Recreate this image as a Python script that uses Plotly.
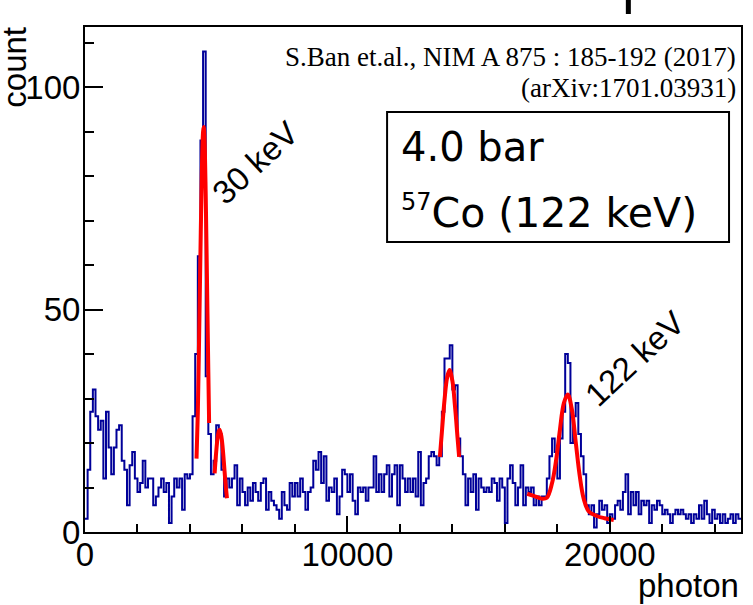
import numpy as np
import plotly.graph_objects as go

# ---------------- data ----------------
bin_width = 100          # photons per bin
n_bins = 250             # 0 .. 25000 photons

counts_0_62 = [3, 14, 27, 32, 26, 23, 25, 12, 27, 19, 13, 19, 23, 24, 16, 14, 6, 15, 18, 12,
               9, 11, 16, 10, 12, 12, 6, 8, 10, 12, 9, 11, 2, 8, 12, 10, 12, 5, 13, 12,
               13, 26, 40, 62, 88, 108, 35, 22, 13, 16, 24, 22, 14, 8, 12, 10, 12, 15, 6, 12,
               9, 6, 10]
counts_63_123 = [7, 11, 9, 7, 11, 12, 5, 9, 7, 6, 5, 3, 9, 6, 5, 11, 8, 11, 8, 12,
                 9, 5, 9, 10, 16, 14, 18, 11, 17, 7, 10, 9, 12, 4, 8, 14, 13, 9, 13, 7,
                 4, 10, 9, 10, 7, 10, 10, 17, 9, 13, 9, 13, 15, 8, 13, 15, 6, 15, 12, 9,
                 12]
counts_124_186 = [9, 12, 8, 18, 6, 11, 12, 17, 18, 17, 15, 17, 27, 39, 39, 42, 32, 33, 21, 17,
                  13, 6, 12, 9, 13, 5, 12, 10, 9, 10, 9, 12, 11, 7, 12, 10, 2, 12, 15, 11,
                  6, 10, 15, 6, 10, 9, 10, 6, 8, 6, 8, 8, 12, 17, 21, 18, 12, 21, 27, 40,
                  38, 20, 26]
counts_187_249 = [29, 22, 17, 13, 6, 4, 6, 1, 4, 7, 5, 6, 2, 4, 3, 6, 7, 5, 9, 13,
                  4, 9, 6, 9, 4, 7, 6, 7, 2, 6, 5, 7, 6, 4, 5, 4, 2, 4, 5, 4,
                  5, 4, 3, 4, 2, 4, 3, 6, 3, 7, 4, 2, 5, 3, 4, 2, 4, 2, 3, 4,
                  2, 4, 3]
counts = counts_0_62 + counts_63_123 + counts_124_186 + counts_187_249
assert len(counts) == n_bins, len(counts)

# fit curves
fit30_x = [4250, 4300, 4350, 4400, 4450, 4500, 4525, 4550, 4600, 4650, 4700, 4730]
fit30_y = [16.5, 27, 44, 63, 80, 90, 91, 89, 76, 56, 36, 24.5]
fit30b_x = [4940, 5000, 5050, 5100, 5130, 5200, 5250, 5300, 5350, 5410]
fit30b_y = [13.2, 18.0, 21.0, 22.7, 23.0, 21.4, 18.7, 15.1, 11.3, 7.6]
fit14k_x = [13524, 13600, 13700, 13800, 13890, 14000, 14100, 14200, 14258]
fit14k_y = [16.9, 22.4, 29.6, 34.7, 36.4, 34.0, 28.3, 21.0, 16.9]
fit122_x = [16850, 17100, 17400, 17600, 17800, 17950, 18100, 18250, 18400, 18550, 18700,
            18850, 19000, 19200, 19500, 19800, 20150]
fit122_y = [8.6, 8.1, 7.5, 7.7, 11.0, 16.0, 23.0, 29.0, 30.9, 27.7, 20.3, 12.8, 7.6, 4.6,
            3.6, 3.1, 2.7]

x_tickvals = [0, 10000, 20000]
x_ticktext = ["0", "10000", "20000"]
y_tickvals = [0, 50, 100]
y_ticktext = ["0", "50", "100"]

# ---------------- figure ----------------
edges = [i * bin_width for i in range(n_bins + 1)]
hist_y = counts + [counts[-1]]

fig = go.Figure()
fig.add_trace(go.Scatter(x=edges, y=hist_y, mode="lines", line_shape="hv",
                         line=dict(color="#000099", width=2), hoverinfo="skip"))
for fx, fy in [(fit30_x, fit30_y), (fit30b_x, fit30b_y), (fit14k_x, fit14k_y), (fit122_x, fit122_y)]:
    fig.add_trace(go.Scatter(x=fx, y=fy, mode="lines", line_shape="spline",
                             line=dict(color="#ff0000", width=4), hoverinfo="skip"))

L, R, T, B = 85, 743, 27, 532
W, H = 753, 605
pw, ph = R - L, B - T


def px(x):
    return (x - L) / pw


def py(y):
    return (B - y) / ph


axis_font = dict(family="Liberation Sans, Arial, sans-serif", size=33, color="black")
fig.update_layout(
    width=W, height=H,
    margin=dict(l=L, r=W - R, t=T, b=H - B),
    paper_bgcolor="white", plot_bgcolor="white",
    showlegend=False,
    xaxis=dict(range=[0, 25000], showgrid=False, zeroline=False,
               showline=True, linecolor="black", linewidth=2, mirror=True,
               ticks="inside", tickvals=x_tickvals, ticktext=x_ticktext,
               ticklen=16, tickwidth=2, tickcolor="black",
               tickfont=axis_font, ticklabelstandoff=-8,
               minor=dict(dtick=2000, ticks="inside", ticklen=8, tickwidth=2, tickcolor="black")),
    yaxis=dict(range=[0, 113.5], showgrid=False, zeroline=False,
               showline=True, linecolor="black", linewidth=2, mirror=True,
               ticks="inside", tickvals=y_tickvals, ticktext=y_ticktext,
               ticklen=18, tickwidth=2, tickcolor="black",
               tickfont=axis_font, ticklabelstandoff=-4,
               minor=dict(dtick=10, ticks="inside", ticklen=9, tickwidth=2, tickcolor="black")),
)

ann = []
ann.append(dict(text="count", xref="paper", yref="paper", x=px(14), y=py(25),
                xanchor="center", yanchor="top", textangle=-90, showarrow=False,
                font=axis_font))
ann.append(dict(text="photon", xref="paper", yref="paper", x=px(743), y=py(585),
                xanchor="right", yanchor="middle", showarrow=False, font=axis_font))
serif = dict(family="Liberation Serif, Times New Roman, serif", size=27, color="black")
ann.append(dict(text="S.Ban et.al., NIM A 875 : 185-192 (2017)", xref="paper", yref="paper",
                x=px(740), y=py(57), xanchor="right", yanchor="middle", showarrow=False, font=serif))
ann.append(dict(text="(arXiv:1701.03931)", xref="paper", yref="paper",
                x=px(740), y=py(88), xanchor="right", yanchor="middle", showarrow=False, font=serif))
box_font = dict(family="DejaVu Sans, sans-serif", size=40, color="black")
box_font2 = dict(family="DejaVu Sans, sans-serif", size=41, color="black")
ann.append(dict(text="4.0 bar", xref="paper", yref="paper", x=px(400), y=py(147),
                xanchor="left", yanchor="middle", showarrow=False, font=box_font))
ann.append(dict(text="<sup><span style=\"font-size:24px\">57</span></sup>Co (122 keV)",
                xref="paper", yref="paper", x=px(400), y=py(212),
                xanchor="left", yanchor="middle", showarrow=False, font=box_font2))
label_font = dict(family="Liberation Sans, Arial, sans-serif", size=33, color="black")
ann.append(dict(text="30 keV", xref="x", yref="y", x=6500, y=83, textangle=-43,
                xanchor="center", yanchor="middle", showarrow=False, font=label_font))
ann.append(dict(text="122 keV", xref="x", yref="y", x=20950, y=39, textangle=-43,
                xanchor="center", yanchor="middle", showarrow=False, font=label_font))
fig.update_layout(annotations=ann)

fig.update_layout(shapes=[
    dict(type="rect", xref="paper", yref="paper", x0=px(388), x1=px(731), y0=py(242), y1=py(112),
         line=dict(color="black", width=2), fillcolor="rgba(0,0,0,0)"),
    dict(type="line", xref="paper", yref="paper", x0=px(630), x1=px(630), y0=py(0), y1=py(14),
         line=dict(color="black", width=5)),
])

fig.write_html("out.html")
